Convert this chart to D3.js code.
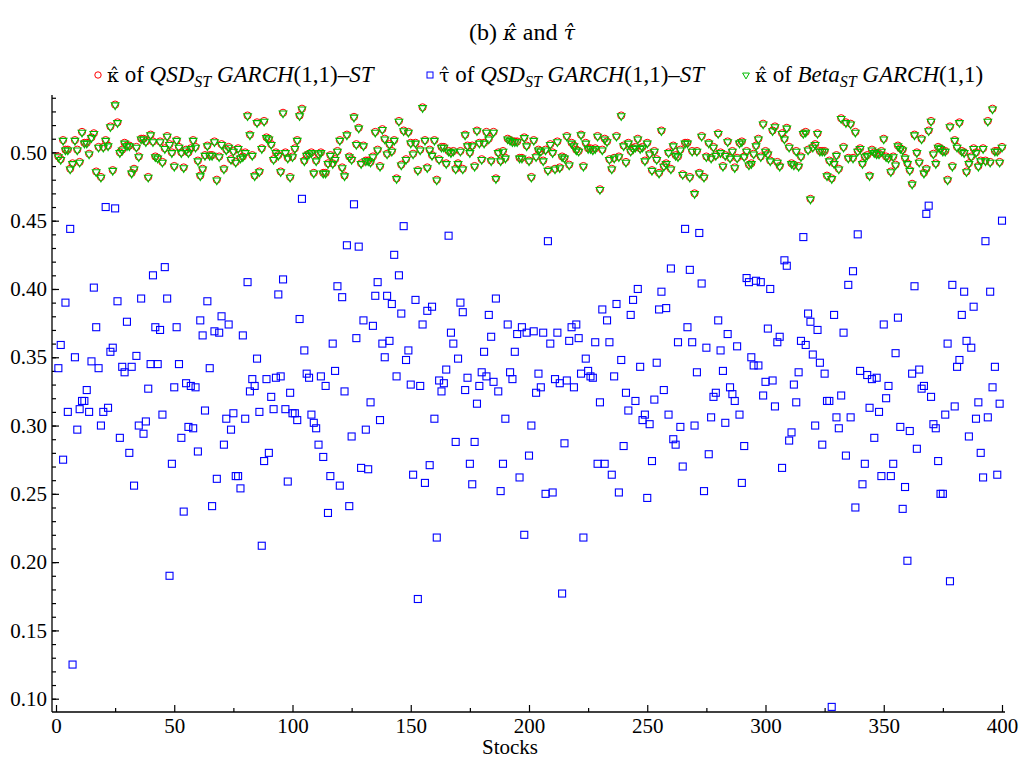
<!DOCTYPE html>
<html>
<head>
<meta charset="utf-8">
<script src="https://cdn.jsdelivr.net/npm/d3@7"></script>
<style>
  body { margin: 0; background: #fff; }
  text { font-family: "Liberation Serif", "DejaVu Serif", serif; fill: #000; }
</style>
</head>
<body>
<svg width="1021" height="759" id="mainsvg"></svg>
<script>
// kappa-hat of QSD_ST GARCH(1,1)-ST, stocks 1..400
const kappaQSD = [
0.497,0.495,0.509,0.502,0.502,0.488,0.492,0.509,0.502,0.493,0.515,0.507,0.507,0.499,0.511,0.514,0.486,0.504,0.482,0.504,
0.509,0.505,0.519,0.487,0.535,0.522,0.500,0.502,0.507,0.505,0.505,0.485,0.488,0.504,0.497,0.510,0.510,0.508,0.482,0.513,
0.508,0.497,0.496,0.508,0.493,0.503,0.512,0.506,0.500,0.490,0.509,0.504,0.500,0.489,0.502,0.500,0.503,0.509,0.504,0.494,
0.483,0.488,0.498,0.505,0.498,0.498,0.508,0.480,0.497,0.506,0.488,0.502,0.504,0.495,0.501,0.493,0.503,0.496,0.497,0.500,
0.527,0.513,0.498,0.483,0.522,0.486,0.503,0.523,0.511,0.510,0.506,0.495,0.500,0.498,0.486,0.529,0.500,0.496,0.482,0.497,
0.503,0.509,0.527,0.532,0.494,0.498,0.499,0.500,0.485,0.494,0.499,0.500,0.485,0.485,0.492,0.498,0.492,0.495,0.501,0.509,
0.489,0.483,0.513,0.497,0.495,0.526,0.506,0.518,0.492,0.505,0.494,0.494,0.493,0.497,0.515,0.502,0.490,0.517,0.510,0.499,
0.506,0.501,0.509,0.481,0.523,0.491,0.516,0.495,0.515,0.507,0.499,0.507,0.487,0.502,0.533,0.509,0.489,0.502,0.498,0.509,
0.480,0.495,0.504,0.504,0.492,0.501,0.500,0.501,0.488,0.492,0.501,0.488,0.513,0.505,0.500,0.505,0.490,0.516,0.507,0.495,
0.507,0.515,0.510,0.494,0.515,0.481,0.500,0.494,0.501,0.496,0.510,0.509,0.508,0.508,0.508,0.496,0.496,0.511,0.505,0.494,
0.482,0.509,0.497,0.502,0.501,0.494,0.502,0.487,0.506,0.500,0.488,0.508,0.489,0.497,0.496,0.512,0.491,0.507,0.505,0.502,
0.501,0.513,0.490,0.507,0.503,0.503,0.502,0.503,0.512,0.473,0.502,0.510,0.508,0.495,0.488,0.496,0.512,0.497,0.527,0.505,
0.493,0.507,0.501,0.503,0.504,0.510,0.503,0.504,0.494,0.507,0.499,0.487,0.501,0.495,0.485,0.516,0.490,0.492,0.500,0.488,
0.505,0.498,0.497,0.502,0.484,0.507,0.507,0.482,0.501,0.470,0.501,0.485,0.512,0.482,0.497,0.507,0.496,0.504,0.498,0.514,
0.500,0.490,0.498,0.508,0.496,0.501,0.489,0.496,0.507,0.508,0.497,0.501,0.491,0.492,0.499,0.505,0.510,0.497,0.521,0.501,
0.499,0.494,0.516,0.519,0.493,0.490,0.514,0.510,0.518,0.504,0.492,0.491,0.501,0.490,0.497,0.514,0.515,0.502,0.466,0.504,
0.506,0.514,0.501,0.501,0.501,0.483,0.494,0.481,0.492,0.498,0.488,0.525,0.504,0.522,0.496,0.521,0.496,0.515,0.501,0.503,
0.492,0.497,0.498,0.483,0.502,0.500,0.499,0.499,0.501,0.510,0.497,0.496,0.486,0.497,0.491,0.505,0.503,0.502,0.496,0.492,
0.487,0.477,0.513,0.500,0.493,0.510,0.485,0.488,0.516,0.523,0.499,0.492,0.504,0.503,0.501,0.501,0.480,0.519,0.490,0.509,
0.504,0.522,0.501,0.500,0.486,0.492,0.497,0.503,0.500,0.490,0.494,0.503,0.494,0.523,0.493,0.532,0.501,0.501,0.493,0.504
];

// tau-hat of QSD_ST GARCH(1,1)-ST
const tauQSD = [
0.342,0.359,0.275,0.390,0.310,0.444,0.125,0.350,0.297,0.312,0.318,0.318,0.326,0.310,0.347,0.401,0.372,0.342,0.300,0.310,
0.460,0.313,0.354,0.357,0.459,0.391,0.291,0.343,0.339,0.376,0.280,0.343,0.256,0.351,0.300,0.393,0.294,0.303,0.327,0.345,
0.410,0.372,0.345,0.370,0.308,0.416,0.393,0.190,0.272,0.328,0.372,0.345,0.291,0.237,0.331,0.299,0.329,0.298,0.328,0.281,
0.377,0.366,0.311,0.391,0.342,0.241,0.369,0.261,0.368,0.380,0.286,0.305,0.374,0.297,0.309,0.263,0.263,0.254,0.366,0.305,
0.405,0.325,0.334,0.329,0.349,0.310,0.212,0.274,0.334,0.280,0.321,0.312,0.335,0.396,0.336,0.407,0.312,0.259,0.324,0.309,
0.309,0.304,0.378,0.466,0.355,0.338,0.335,0.308,0.302,0.298,0.286,0.336,0.277,0.329,0.236,0.263,0.360,0.340,0.402,0.256,
0.394,0.325,0.432,0.241,0.292,0.462,0.364,0.431,0.269,0.377,0.297,0.268,0.317,0.373,0.395,0.405,0.304,0.360,0.350,0.395,
0.362,0.389,0.425,0.336,0.410,0.382,0.446,0.348,0.355,0.330,0.264,0.392,0.173,0.329,0.374,0.258,0.384,0.271,0.387,0.305,
0.218,0.333,0.325,0.331,0.341,0.439,0.368,0.360,0.288,0.349,0.390,0.383,0.326,0.335,0.272,0.257,0.288,0.316,0.329,0.339,
0.354,0.336,0.381,0.365,0.332,0.393,0.325,0.252,0.272,0.305,0.374,0.339,0.334,0.354,0.367,0.262,0.372,0.220,0.368,0.278,
0.300,0.369,0.324,0.338,0.328,0.368,0.250,0.435,0.360,0.251,0.334,0.368,0.331,0.177,0.287,0.333,0.362,0.372,0.328,0.374,
0.364,0.338,0.218,0.349,0.340,0.336,0.335,0.361,0.272,0.317,0.385,0.272,0.377,0.361,0.264,0.336,0.389,0.251,0.348,0.285,
0.324,0.311,0.381,0.392,0.318,0.400,0.343,0.304,0.308,0.247,0.301,0.274,0.319,0.346,0.385,0.398,0.326,0.386,0.308,0.415,
0.290,0.286,0.361,0.299,0.270,0.444,0.372,0.414,0.361,0.300,0.339,0.441,0.404,0.252,0.357,0.279,0.306,0.321,0.324,0.377,
0.355,0.340,0.302,0.367,0.328,0.323,0.318,0.358,0.308,0.258,0.285,0.408,0.405,0.350,0.344,0.406,0.344,0.405,0.322,0.332,
0.371,0.400,0.333,0.314,0.361,0.365,0.269,0.421,0.417,0.289,0.295,0.330,0.317,0.339,0.362,0.438,0.359,0.382,0.376,0.352,
0.300,0.370,0.346,0.286,0.338,0.318,0.318,0.094,0.381,0.306,0.298,0.322,0.368,0.278,0.403,0.306,0.413,0.240,0.440,0.340,
0.257,0.272,0.337,0.313,0.334,0.291,0.335,0.310,0.263,0.374,0.320,0.329,0.263,0.272,0.353,0.379,0.299,0.239,0.255,0.201,
0.296,0.338,0.402,0.283,0.341,0.327,0.329,0.455,0.461,0.321,0.301,0.298,0.274,0.250,0.250,0.308,0.360,0.186,0.403,0.314,
0.343,0.348,0.381,0.398,0.362,0.292,0.357,0.387,0.305,0.317,0.280,0.262,0.435,0.306,0.398,0.328,0.343,0.264,0.316,0.450
];

// kappa-hat of Beta_ST GARCH(1,1)
const kappaBeta = [
0.497,0.495,0.509,0.502,0.502,0.488,0.492,0.509,0.502,0.493,0.515,0.507,0.507,0.499,0.511,0.514,0.486,0.504,0.482,0.504,
0.509,0.505,0.519,0.487,0.535,0.522,0.500,0.502,0.507,0.505,0.505,0.485,0.488,0.504,0.497,0.510,0.510,0.508,0.482,0.513,
0.508,0.497,0.496,0.508,0.493,0.503,0.512,0.506,0.500,0.490,0.509,0.504,0.500,0.489,0.502,0.500,0.503,0.509,0.504,0.494,
0.483,0.488,0.498,0.505,0.498,0.498,0.508,0.480,0.497,0.506,0.488,0.502,0.504,0.495,0.501,0.493,0.503,0.496,0.497,0.500,
0.527,0.513,0.498,0.483,0.522,0.486,0.503,0.523,0.511,0.510,0.506,0.495,0.500,0.498,0.486,0.529,0.500,0.496,0.482,0.497,
0.503,0.509,0.527,0.532,0.494,0.498,0.499,0.500,0.485,0.494,0.499,0.500,0.485,0.485,0.492,0.498,0.492,0.495,0.501,0.509,
0.489,0.483,0.513,0.497,0.495,0.526,0.506,0.518,0.492,0.505,0.494,0.494,0.493,0.497,0.515,0.502,0.490,0.517,0.510,0.499,
0.506,0.501,0.509,0.481,0.523,0.491,0.516,0.495,0.515,0.507,0.499,0.507,0.487,0.502,0.533,0.509,0.489,0.502,0.498,0.509,
0.480,0.495,0.504,0.504,0.492,0.501,0.500,0.501,0.488,0.492,0.501,0.488,0.513,0.505,0.500,0.505,0.490,0.516,0.507,0.495,
0.507,0.515,0.510,0.494,0.515,0.481,0.500,0.494,0.501,0.496,0.510,0.509,0.508,0.508,0.508,0.496,0.496,0.511,0.505,0.494,
0.482,0.509,0.497,0.502,0.501,0.494,0.502,0.487,0.506,0.500,0.488,0.508,0.489,0.497,0.496,0.512,0.491,0.507,0.505,0.502,
0.501,0.513,0.490,0.507,0.503,0.503,0.502,0.503,0.512,0.473,0.502,0.510,0.508,0.495,0.488,0.496,0.512,0.497,0.527,0.505,
0.493,0.507,0.501,0.503,0.504,0.510,0.503,0.504,0.494,0.507,0.499,0.487,0.501,0.495,0.485,0.516,0.490,0.492,0.500,0.488,
0.505,0.498,0.497,0.502,0.484,0.507,0.507,0.482,0.501,0.470,0.501,0.485,0.512,0.482,0.497,0.507,0.496,0.504,0.498,0.514,
0.500,0.490,0.498,0.508,0.496,0.501,0.489,0.496,0.507,0.508,0.497,0.501,0.491,0.492,0.499,0.505,0.510,0.497,0.521,0.501,
0.499,0.494,0.516,0.519,0.493,0.490,0.514,0.510,0.518,0.504,0.492,0.491,0.501,0.490,0.497,0.514,0.515,0.502,0.466,0.504,
0.506,0.514,0.501,0.501,0.501,0.483,0.494,0.481,0.492,0.498,0.488,0.525,0.504,0.522,0.496,0.521,0.496,0.515,0.501,0.503,
0.492,0.497,0.498,0.483,0.502,0.500,0.499,0.499,0.501,0.510,0.497,0.496,0.486,0.497,0.491,0.505,0.503,0.502,0.496,0.492,
0.487,0.477,0.513,0.500,0.493,0.510,0.485,0.488,0.516,0.523,0.499,0.492,0.504,0.503,0.501,0.501,0.480,0.519,0.490,0.509,
0.504,0.522,0.501,0.500,0.486,0.492,0.497,0.503,0.500,0.490,0.494,0.503,0.494,0.523,0.493,0.532,0.501,0.501,0.493,0.504
];

const xTicks = [0, 50, 100, 150, 200, 250, 300, 350, 400];
const yTicks = [0.10, 0.15, 0.20, 0.25, 0.30, 0.35, 0.40, 0.45, 0.50];

const svg = d3.select('#mainsvg');
const axisLeftX = 52, axisBottomY = 712, axisTopY = 95, axisRightX = 1005;

const x = d3.scaleLinear().domain([0, 400]).range([56, 1002]);
const y = d3.scaleLinear().domain([0.10, 0.50]).range([698.7, 152.4]);

// title
const title = svg.append('text').attr('x', 522).attr('y', 40)
    .attr('text-anchor', 'middle').style('font-size', '24px');
title.append('tspan').text('(b) ');
title.append('tspan').style('font-family', 'DejaVu Serif').style('font-style', 'italic').style('font-size', '21px').text('\u03BA\u0302');
title.append('tspan').text(' and ');
title.append('tspan').style('font-family', 'DejaVu Serif').style('font-style', 'italic').style('font-size', '21px').text('\u03C4\u0302');

// axes
svg.append('line').attr('x1', axisLeftX).attr('x2', axisLeftX).attr('y1', axisTopY).attr('y2', axisBottomY)
    .attr('stroke', '#000').attr('stroke-width', 1.3);
svg.append('line').attr('x1', axisLeftX).attr('x2', axisRightX).attr('y1', axisBottomY).attr('y2', axisBottomY)
    .attr('stroke', '#000').attr('stroke-width', 1.3);

const yMinor = d3.range(0.09, 0.545, 0.01).filter(v => y(v) >= axisTopY && y(v) <= axisBottomY);
svg.append('g').attr('transform', `translate(${axisLeftX},0)`)
    .call(d3.axisLeft(y).tickValues(yMinor).tickSize(-4).tickFormat(''))
    .call(g => g.select('.domain').remove());
svg.append('g').attr('transform', `translate(${axisLeftX},0)`)
    .call(d3.axisLeft(y).tickValues(yTicks).tickSize(-7).tickPadding(5).tickFormat(d3.format('.2f')))
    .call(g => g.select('.domain').remove())
    .call(g => g.selectAll('text').style('font-size', '21px').attr('font-family', null));

const xMinor = d3.range(25, 400, 50);
svg.append('g').attr('transform', `translate(0,${axisBottomY})`)
    .call(d3.axisBottom(x).tickValues(xMinor).tickSize(-4).tickFormat(''))
    .call(g => g.select('.domain').remove());
svg.append('g').attr('transform', `translate(0,${axisBottomY})`)
    .call(d3.axisBottom(x).tickValues(xTicks).tickSize(-7).tickPadding(6))
    .call(g => g.select('.domain').remove())
    .call(g => g.selectAll('text').style('font-size', '21px').attr('font-family', null));
svg.selectAll('.tick line').attr('stroke', '#000').attr('stroke-width', 1.2);

svg.append('text').attr('x', 510).attr('y', 754).attr('text-anchor', 'middle')
    .style('font-size', '21px').text('Stocks');

// markers
const tri = d3.symbol().type(d3.symbolTriangle).size(26);
const plot = svg.append('g');
plot.selectAll('.k1').data(kappaQSD).join('circle').attr('class', 'k1')
    .attr('cx', (d, i) => x(i + 1)).attr('cy', d => y(d)).attr('r', 3.6)
    .attr('fill', 'none').attr('stroke', '#ff0000').attr('stroke-width', 1);
plot.selectAll('.t1').data(tauQSD).join('rect').attr('class', 't1')
    .attr('x', (d, i) => x(i + 1) - 3.5).attr('y', d => y(d) - 3.5).attr('width', 7).attr('height', 7)
    .attr('fill', 'none').attr('stroke', '#0000ff').attr('stroke-width', 1.1);
plot.selectAll('.k2').data(kappaBeta).join('path').attr('class', 'k2')
    .attr('d', tri).attr('transform', (d, i) => `translate(${x(i + 1)},${y(d) + 0.5}) rotate(180)`)
    .attr('fill', 'none').attr('stroke', '#00bb00').attr('stroke-width', 1.1);

// legend
const legend = svg.append('g').style('font-size', '23px');
const legY = 82;
function addEntry(x0, sym, greek, model) {
    if (sym === 'circle') {
        legend.append('circle').attr('cx', x0).attr('cy', legY - 7).attr('r', 3.2)
            .attr('fill', 'none').attr('stroke', '#ff0000');
    } else if (sym === 'square') {
        legend.append('rect').attr('x', x0 - 3).attr('y', legY - 10).attr('width', 6).attr('height', 6)
            .attr('fill', 'none').attr('stroke', '#0000ff');
    } else {
        legend.append('path').attr('d', d3.symbol().type(d3.symbolTriangle).size(20))
            .attr('transform', `translate(${x0},${legY - 7}) rotate(180)`)
            .attr('fill', 'none').attr('stroke', '#00bb00');
    }
    const t = legend.append('text').attr('x', x0 + 9).attr('y', legY);
    t.append('tspan').style('font-family', 'DejaVu Serif').style('font-size', '19px').text(greek + '\u0302');
    t.append('tspan').text(' of ');
    t.append('tspan').style('font-style', 'italic').text(model);
    t.append('tspan').style('font-style', 'italic').style('font-size', '16px').attr('dy', 5).text('ST');
    t.append('tspan').style('font-style', 'italic').attr('dy', -5).text(' GARCH');
    return t;
}
const e1 = addEntry(98, 'circle', '\u03BA', 'QSD');
e1.append('tspan').text('(1,1)\u2013');
e1.append('tspan').style('font-style', 'italic').text('ST');
const e2 = addEntry(430, 'square', '\u03C4', 'QSD');
e2.append('tspan').text('(1,1)\u2013');
e2.append('tspan').style('font-style', 'italic').text('ST');
const e3 = addEntry(746, 'triangle', '\u03BA', 'Beta');
e3.append('tspan').text('(1,1)');
</script>
</body>
</html>
